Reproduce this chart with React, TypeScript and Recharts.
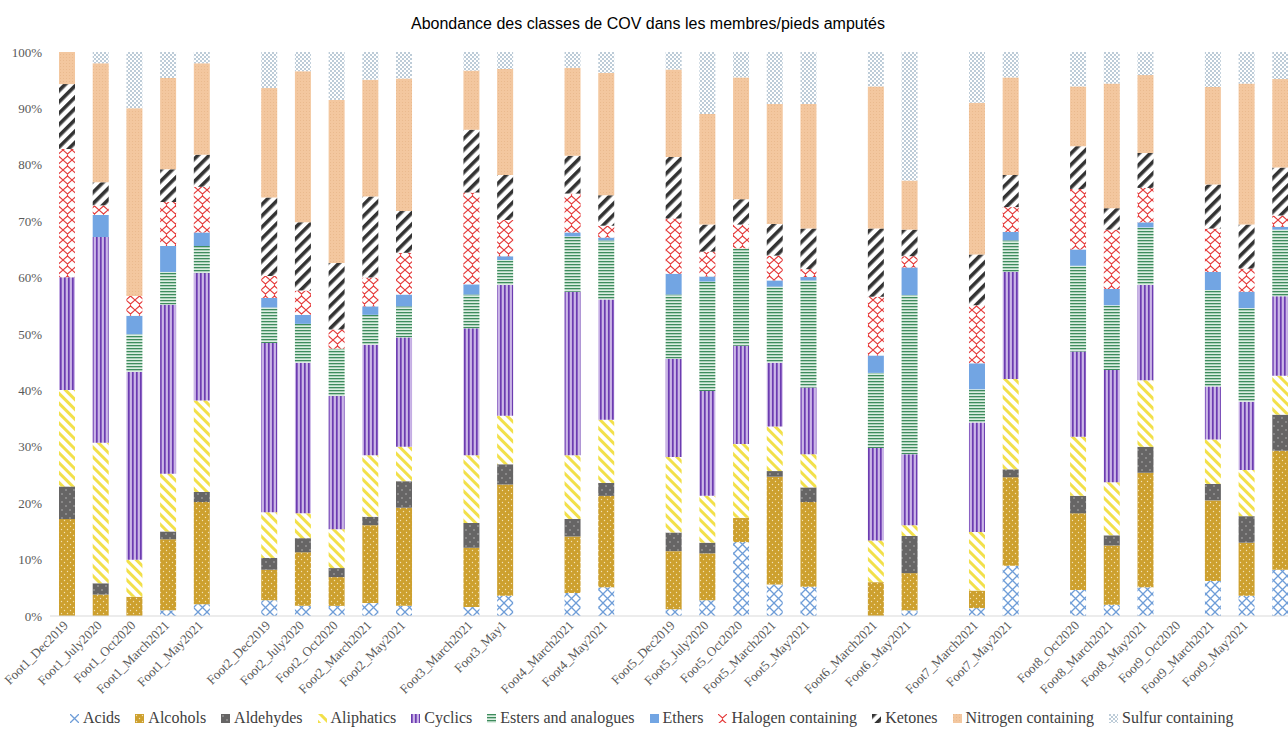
import { BarChart, Bar, XAxis, YAxis } from "recharts";

const categories = [
  "Foot1_Dec2019", "Foot1_July2020", "Foot1_Oct2020", "Foot1_March2021", "Foot1_May2021", "",
  "Foot2_Dec2019", "Foot2_July2020", "Foot2_Oct2020", "Foot2_March2021", "Foot2_May2021", "",
  "Foot3_March2021", "Foot3_May1", "",
  "Foot4_March2021", "Foot4_May2021", "",
  "Foot5_Dec2019", "Foot5_July2020", "Foot5_Oct2020", "Foot5_March2021", "Foot5_May2021", "",
  "Foot6_March2021", "Foot6_May2021", "",
  "Foot7_March2021", "Foot7_May2021", "",
  "Foot8_Oct2020", "Foot8_March2021", "Foot8_May2021", "Foot9_Oct2020",
  "Foot9_March2021", "Foot9_May2021", "",
];

// % per class, bottom to top of each bar (null = empty slot)
const acids = [0, 0, 0, 1.0, 2.1, null, 2.8, 1.8, 1.8, 2.3, 1.8, null, 1.6, 3.6, null, 4.1, 5.1, null, 1.2, 2.8, 13.1, 5.6, 5.2, null, 0, 1.0, null, 1.4, 8.9, null, 4.6, 2.0, 5.1, null, 6.2, 3.6, 8.2];
const alcohols = [17.2, 3.8, 3.4, 12.6, 18.1, null, 5.4, 9.5, 5.1, 13.8, 17.4, null, 10.5, 19.7, null, 10.0, 16.2, null, 10.3, 8.3, 4.3, 19.1, 15.0, null, 6.0, 6.6, null, 3.1, 15.7, null, 13.6, 10.5, 20.3, null, 14.3, 9.4, 21.1];
const aldehydes = [5.8, 2.0, 0, 1.4, 1.8, null, 2.1, 2.5, 1.6, 1.5, 4.7, null, 4.4, 3.6, null, 3.1, 2.3, null, 3.3, 1.9, 0, 1.0, 2.6, null, 0, 6.6, null, 0, 1.4, null, 3.1, 1.8, 4.6, null, 2.9, 4.7, 6.4];
const aliphatics = [17.1, 24.9, 6.6, 10.2, 16.2, null, 8.1, 4.4, 6.9, 10.9, 6.1, null, 12.0, 8.6, null, 11.3, 11.2, null, 13.4, 8.3, 13.1, 7.9, 5.9, null, 7.4, 1.9, null, 10.4, 16.0, null, 10.5, 9.4, 11.8, null, 7.9, 8.2, 6.9];
const cyclics = [20.0, 36.5, 33.3, 30.0, 22.6, null, 30.0, 26.7, 23.6, 19.6, 19.4, null, 22.5, 23.2, null, 29.0, 21.3, null, 17.4, 18.6, 17.4, 11.3, 11.8, null, 16.4, 12.6, null, 19.4, 19.0, null, 15.1, 19.9, 16.9, null, 9.4, 12.1, 14.1];
const esters = [0, 0, 6.7, 5.8, 4.8, null, 6.3, 6.9, 8.4, 5.3, 5.5, null, 6.0, 4.4, null, 9.8, 10.5, null, 11.4, 19.4, 17.3, 13.5, 19.0, null, 13.3, 28.2, null, 5.9, 5.6, null, 15.2, 11.5, 10.2, null, 17.1, 16.6, 11.8];
const ethers = [0, 3.9, 3.3, 4.6, 2.4, null, 1.7, 1.6, 0, 1.5, 2.1, null, 1.8, 0.7, null, 0.7, 0.5, null, 3.7, 0.9, 0, 1.1, 0.6, null, 3.1, 4.9, null, 4.6, 1.5, null, 2.9, 2.9, 0.9, null, 3.2, 2.9, 0.5];
const halogen = [22.8, 1.7, 3.5, 7.8, 8.1, null, 3.9, 4.3, 3.4, 5.1, 7.4, null, 16.3, 6.4, null, 6.9, 2.1, null, 9.8, 4.4, 4.2, 4.4, 1.4, null, 10.4, 2.0, null, 10.3, 4.4, null, 10.7, 10.5, 6.1, null, 7.7, 4.1, 2.0];
const ketones = [11.5, 4.1, 0, 5.8, 5.7, null, 13.9, 12.1, 11.8, 14.4, 7.4, null, 11.1, 8.0, null, 6.7, 5.4, null, 10.9, 4.8, 4.5, 5.6, 7.2, null, 12.1, 4.7, null, 9.0, 5.7, null, 7.6, 3.8, 6.2, null, 7.8, 7.8, 8.5];
const nitrogen = [5.7, 21.1, 33.3, 16.2, 16.2, null, 19.4, 26.8, 28.9, 20.7, 23.5, null, 10.5, 18.8, null, 15.6, 21.7, null, 15.5, 19.6, 21.6, 21.3, 22.1, null, 25.2, 8.7, null, 26.9, 17.3, null, 10.6, 22.1, 13.8, null, 17.3, 25.0, 15.7];
const sulfur = [0, 2.0, 10.0, 4.6, 2.0, null, 6.4, 3.4, 8.5, 4.9, 4.7, null, 3.3, 3.0, null, 2.8, 3.7, null, 3.1, 11.0, 4.5, 9.2, 9.2, null, 6.1, 22.8, null, 9.0, 4.5, null, 6.1, 5.6, 4.1, null, 6.2, 5.6, 4.8];

const yTicks = [0, 0.1, 0.2, 0.3, 0.4, 0.5, 0.6, 0.7, 0.8, 0.9, 1];

const series = [
  { key: "acids", name: "Acids", values: acids, pat: "pAcids" },
  { key: "alcohols", name: "Alcohols", values: alcohols, pat: "pAlcohols" },
  { key: "aldehydes", name: "Aldehydes", values: aldehydes, pat: "pAldehydes" },
  { key: "aliphatics", name: "Aliphatics", values: aliphatics, pat: "pAliphatics" },
  { key: "cyclics", name: "Cyclics", values: cyclics, pat: "pCyclics" },
  { key: "esters", name: "Esters and analogues", values: esters, pat: "pEsters" },
  { key: "ethers", name: "Ethers", values: ethers, pat: "pEthers" },
  { key: "halogen", name: "Halogen containing", values: halogen, pat: "pHalogen" },
  { key: "ketones", name: "Ketones", values: ketones, pat: "pKetones" },
  { key: "nitrogen", name: "Nitrogen containing", values: nitrogen, pat: "pNitrogen" },
  { key: "sulfur", name: "Sulfur containing", values: sulfur, pat: "pSulfur" },
];

const data = categories.map((name, i) => {
  const row: Record<string, string | number | null> = { name };
  series.forEach((s) => {
    row[s.key] = s.values[i];
  });
  return row;
});

const serif = "'Liberation Serif', 'Times New Roman', serif";

function Patterns() {
  return (
    <defs>
      <pattern id="pAcids" patternUnits="userSpaceOnUse" width="9" height="9">
        <rect width="9" height="9" fill="#fff" />
        <path d="M0,0 L9,9 M9,0 L0,9" stroke="#6E9DD8" strokeWidth="1.3" />
      </pattern>
      <pattern id="pAlcohols" patternUnits="userSpaceOnUse" width="6" height="6">
        <rect width="6" height="6" fill="#CDA02E" />
        <circle cx="1.5" cy="1.5" r="0.7" fill="#F3E2B5" />
        <circle cx="4.5" cy="4.5" r="0.7" fill="#F3E2B5" />
      </pattern>
      <pattern id="pAldehydes" patternUnits="userSpaceOnUse" width="8" height="8">
        <rect width="8" height="8" fill="#666565" />
        <circle cx="2" cy="2" r="0.8" fill="#B5B5B5" />
        <circle cx="6" cy="6" r="0.8" fill="#B5B5B5" />
      </pattern>
      <pattern id="pAliphatics" patternUnits="userSpaceOnUse" width="7" height="7" patternTransform="rotate(-45)">
        <rect width="7" height="7" fill="#fff" />
        <rect width="3" height="7" fill="#F2E04A" />
      </pattern>
      <pattern id="pCyclics" patternUnits="userSpaceOnUse" width="4" height="4">
        <rect width="4" height="4" fill="#A987D6" />
        <rect x="0" width="1.5" height="4" fill="#6C3CB0" />
        <rect x="2.5" width="0.9" height="4" fill="#EEE6F8" />
      </pattern>
      <pattern id="pEsters" patternUnits="userSpaceOnUse" width="4" height="3">
        <rect width="4" height="3" fill="#DCEEE2" />
        <rect y="0" width="4" height="1.3" fill="#3E8C5D" />
      </pattern>
      <pattern id="pEthers" patternUnits="userSpaceOnUse" width="4" height="4">
        <rect width="4" height="4" fill="#72A5E3" />
      </pattern>
      <pattern id="pHalogen" patternUnits="userSpaceOnUse" width="9" height="10">
        <rect width="9" height="10" fill="#fff" />
        <path d="M0,0 L4.5,4 L9,0 M4.5,4 L4.5,6 M4.5,6 L0,10 M4.5,6 L9,10" stroke="#E53A3A" strokeWidth="1.1" fill="none" />
      </pattern>
      <pattern id="pKetones" patternUnits="userSpaceOnUse" width="8" height="8" patternTransform="rotate(45)">
        <rect width="8" height="8" fill="#fff" />
        <rect width="3.6" height="8" fill="#333333" />
      </pattern>
      <pattern id="pNitrogen" patternUnits="userSpaceOnUse" width="3" height="3">
        <rect width="3" height="3" fill="#F3C79F" />
        <rect width="1" height="1" fill="#EABA8E" />
      </pattern>
      <pattern id="pSulfur" patternUnits="userSpaceOnUse" width="4" height="4">
        <rect width="4" height="4" fill="#fff" />
        <circle cx="1" cy="1" r="0.8" fill="#6A8CA8" />
        <circle cx="3" cy="3" r="0.8" fill="#6A8CA8" />
      </pattern>
    </defs>
  );
}

function XTick({ x, y, payload }: any) {
  return (
    <text
      x={x}
      y={y}
      transform={`rotate(-45 ${x} ${y})`}
      textAnchor="end"
      fontSize={13}
      fill="#595959"
      fontFamily={serif}
      dy={3}
    >
      {payload.value}
    </text>
  );
}

export default function App() {
  return (
    <div style={{ position: "fixed", left: 0, top: 0, width: 1288, height: 729, overflow: "hidden", background: "#fff" }}>
      <div
        style={{
          position: "absolute",
          top: 15,
          left: 0,
          width: 1296,
          textAlign: "center",
          fontFamily: "'Liberation Sans', Arial, sans-serif",
          fontSize: 16,
          color: "#000",
        }}
      >
        Abondance des classes de COV dans les membres/pieds amputés
      </div>
      <BarChart
        width={1300}
        height={729}
        data={data}
        stackOffset="expand"
        margin={{ top: 52, right: 3, bottom: 0, left: 0 }}
      >
        <Patterns />
        <XAxis
          dataKey="name"
          interval={0}
          height={113}
          tickLine={false}
          axisLine={{ stroke: "#D9D9D9" }}
          tick={<XTick />}
        />
        <YAxis
          width={50}
          domain={[0, 1]}
          ticks={yTicks}
          tickFormatter={(v: number) => `${Math.round(v * 100)}%`}
          axisLine={false}
          tickLine={false}
          tick={{ fontSize: 13, fill: "#595959", fontFamily: serif }}
        />
        {series.map((s) => (
          <Bar
            key={s.key}
            dataKey={s.key}
            name={s.name}
            stackId="a"
            fill={`url(#${s.pat})`}
            barSize={16}
            isAnimationActive={false}
          />
        ))}
      </BarChart>
      <div
        style={{
          position: "absolute",
          top: 709,
          left: 70,
          display: "flex",
          alignItems: "center",
          fontFamily: serif,
          fontSize: 16,
          color: "#404040",
          whiteSpace: "nowrap",
        }}
      >
        {series.map((s) => (
          <div key={s.key} style={{ display: "flex", alignItems: "center", marginRight: 15 }}>
            <svg width={9} height={9} style={{ marginRight: 4 }}>
              <rect width={9} height={9} fill={`url(#${s.pat})`} />
            </svg>
            <span>{s.name}</span>
          </div>
        ))}
      </div>
    </div>
  );
}
